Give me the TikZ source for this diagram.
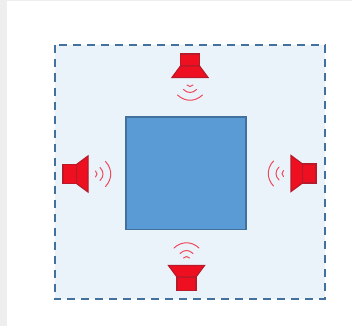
\documentclass[tikz,border=0pt]{standalone}
\definecolor{stripgray}{HTML}{EEEEEE}
\definecolor{zonefill}{HTML}{EBF3FA}
\definecolor{edgeblue}{HTML}{41719C}
\definecolor{boxblue}{HTML}{5B9BD5}
\definecolor{spkfill}{HTML}{EE1020}
\definecolor{spkedge}{HTML}{B81A2A}
\definecolor{wavecol}{HTML}{EE4A5C}
\tikzset{
  zone/.style={draw=edgeblue,fill=zonefill,line width=2pt,dash pattern=on 8pt off 6pt},
  room/.style={draw=edgeblue,fill=boxblue,line width=1.3pt},
  spkpart/.style={draw=spkedge,fill=spkfill,line width=1.2pt,line join=miter},
  wavepart/.style={draw=wavecol,line width=1pt,line cap=round},
  pics/speaker/.style={code={
    \path[spkpart] (-11.5,-9.5) -- (-11.5,9.5) -- (-#1,9.5) -- (-#1,-9.5) -- cycle;
    \path[spkpart] (0,-18) -- (0,18) -- (-11.5,9.5) -- (-11.5,-9.5) -- cycle;
    \draw[wavepart] (7.5,-3) .. controls (9.5,-1) and (9.5,1) .. (7.5,3);
    \draw[wavepart] (12,-6.5) .. controls (16,-2.5) and (16,2.5) .. (12,6.5);
    \draw[wavepart] (17.5,-12.5) .. controls (24.5,-5) and (24.5,5) .. (17.5,12.5);
  }}
}
\begin{document}
\begin{tikzpicture}[x=1pt,y=-1pt]
\useasboundingbox (0,0) rectangle (352,326);
\fill[white] (0,0) rectangle (352,326);
\fill[stripgray] (0,0) rectangle (7,326);
\fill[stripgray] (0,0) rectangle (352,1);
\path[zone] (54.5,45.5) rectangle (325,299);
\path[room] (126,117) rectangle (246,229.5);
\pic[shift={(190,77.5)},rotate=-90] {speaker=23.5};
\pic[shift={(186.5,265.5)},rotate=90] {speaker=25};
\pic[shift={(88,174)}] {speaker=25};
\pic[shift={(291,173.5)},rotate=180] {speaker=25};
\end{tikzpicture}
\end{document}
